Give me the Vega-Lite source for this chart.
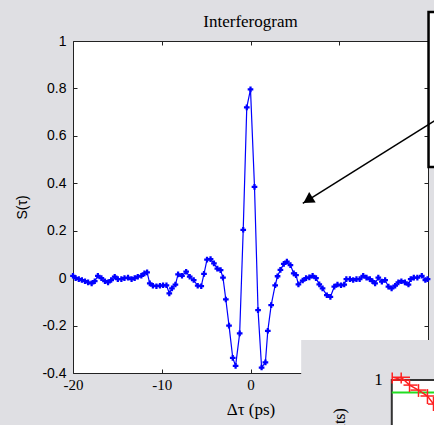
{
  "$schema": "https://vega.github.io/schema/vega-lite/v6.json",
  "width": 355,
  "height": 332,
  "autosize": {"type": "none"},
  "padding": {"left": 73, "top": 41, "right": 6, "bottom": 52},
  "background": "#dfdfe3",
  "view": {"fill": "white", "stroke": null},
  "title": {"text": "Interferogram", "font": "Liberation Serif", "fontSize": 17, "fontWeight": "normal", "color": "black", "anchor": "middle", "frame": "group", "baseline": "alphabetic", "offset": -33},
  "datasets": {
    "main": [
      {"x": -20.0, "y": 0.01}, {"x": -19.7, "y": 0.0}, {"x": -19.35, "y": -0.004}, {"x": -19.0, "y": -0.008},
      {"x": -18.65, "y": -0.013}, {"x": -18.3, "y": -0.018}, {"x": -17.9, "y": -0.022}, {"x": -17.55, "y": -0.013},
      {"x": -17.2, "y": 0.01}, {"x": -16.8, "y": 0.0}, {"x": -16.4, "y": -0.013}, {"x": -16.05, "y": -0.018},
      {"x": -15.7, "y": -0.008}, {"x": -15.3, "y": 0.006}, {"x": -14.95, "y": -0.004}, {"x": -14.55, "y": -0.004},
      {"x": -14.2, "y": 0.0}, {"x": -13.8, "y": 0.002}, {"x": -13.4, "y": -0.004}, {"x": -13.05, "y": 0.0},
      {"x": -12.7, "y": 0.006}, {"x": -12.3, "y": 0.01}, {"x": -11.95, "y": 0.02}, {"x": -11.65, "y": 0.024},
      {"x": -11.35, "y": -0.022}, {"x": -11.0, "y": -0.032}, {"x": -10.6, "y": -0.034}, {"x": -10.2, "y": -0.032},
      {"x": -9.85, "y": -0.03}, {"x": -9.47, "y": -0.03}, {"x": -9.15, "y": -0.064}, {"x": -8.85, "y": -0.043},
      {"x": -8.46, "y": -0.027}, {"x": -8.16, "y": 0.016}, {"x": -7.72, "y": 0.01}, {"x": -7.25, "y": 0.027},
      {"x": -6.85, "y": 0.006}, {"x": -6.4, "y": -0.008}, {"x": -5.95, "y": -0.032}, {"x": -5.55, "y": -0.034},
      {"x": -5.24, "y": 0.018}, {"x": -4.9, "y": 0.078}, {"x": -4.5, "y": 0.08}, {"x": -4.12, "y": 0.062},
      {"x": -3.74, "y": 0.04}, {"x": -3.37, "y": 0.034}, {"x": -3.1, "y": 0.002}, {"x": -2.78, "y": -0.09},
      {"x": -2.42, "y": -0.2}, {"x": -2.0, "y": -0.336}, {"x": -1.68, "y": -0.37}, {"x": -1.22, "y": -0.233},
      {"x": -0.82, "y": 0.204}, {"x": -0.42, "y": 0.72}, {"x": 0.0, "y": 0.796}, {"x": 0.45, "y": 0.385},
      {"x": 0.85, "y": -0.135}, {"x": 1.25, "y": -0.377}, {"x": 1.68, "y": -0.355}, {"x": 1.95, "y": -0.222},
      {"x": 2.33, "y": -0.114}, {"x": 2.78, "y": -0.03}, {"x": 3.05, "y": 0.008}, {"x": 3.37, "y": 0.035},
      {"x": 3.75, "y": 0.06}, {"x": 4.1, "y": 0.07}, {"x": 4.5, "y": 0.055}, {"x": 4.87, "y": 0.02},
      {"x": 5.13, "y": 0.013}, {"x": 5.4, "y": -0.026}, {"x": 5.88, "y": -0.01}, {"x": 6.26, "y": 0.0},
      {"x": 6.63, "y": 0.003}, {"x": 7.0, "y": 0.01}, {"x": 7.38, "y": 0.0}, {"x": 7.75, "y": -0.026},
      {"x": 8.12, "y": -0.043}, {"x": 8.6, "y": -0.072}, {"x": 9.0, "y": -0.079}, {"x": 9.44, "y": -0.036},
      {"x": 9.8, "y": -0.027}, {"x": 10.2, "y": -0.03}, {"x": 10.56, "y": -0.027}, {"x": 10.8, "y": -0.004},
      {"x": 11.2, "y": -0.004}, {"x": 11.57, "y": -0.008}, {"x": 11.94, "y": -0.004}, {"x": 12.3, "y": -0.004},
      {"x": 12.7, "y": 0.01}, {"x": 13.07, "y": 0.002}, {"x": 13.45, "y": -0.004}, {"x": 13.74, "y": -0.013},
      {"x": 14.04, "y": -0.022}, {"x": 14.4, "y": 0.002}, {"x": 14.8, "y": -0.015}, {"x": 15.17, "y": -0.008},
      {"x": 15.54, "y": -0.036}, {"x": 15.9, "y": -0.043}, {"x": 16.3, "y": -0.032}, {"x": 16.66, "y": -0.018},
      {"x": 17.0, "y": -0.013}, {"x": 17.4, "y": -0.018}, {"x": 17.8, "y": -0.027}, {"x": 18.05, "y": -0.004},
      {"x": 18.4, "y": 0.002}, {"x": 18.8, "y": 0.002}, {"x": 19.3, "y": 0.01}, {"x": 19.7, "y": -0.008},
      {"x": 19.95, "y": -0.004}
    ],
    "red": [
      {"x": 15.97, "y": -0.43, "xlo": 15.94, "xhi": 17.97, "ylo": -0.398, "yhi": -0.444},
      {"x": 16.98, "y": -0.418, "xlo": 15.94, "xhi": 17.97, "ylo": -0.398, "yhi": -0.444},
      {"x": 17.92, "y": -0.451, "xlo": 17.24, "xhi": 18.82, "ylo": -0.43, "yhi": -0.48},
      {"x": 18.93, "y": -0.472, "xlo": 18.03, "xhi": 19.83, "ylo": -0.447, "yhi": -0.501},
      {"x": 19.94, "y": -0.497, "xlo": 19.15, "xhi": 20.85, "ylo": -0.468, "yhi": -0.531},
      {"x": 20.62, "y": -0.531, "xlo": 20.0, "xhi": 21.4, "ylo": -0.5, "yhi": -0.56}
    ]
  },
  "layer": [
    {
      "data": {"name": "main"},
      "mark": {"type": "line", "opacity": 0},
      "encoding": {
        "x": {"field": "x", "type": "quantitative", "scale": {"domain": [-20, 20], "nice": false, "zero": false},
              "axis": {"orient": "top", "labels": false, "title": null, "values": [-20, -10, 0, 10, 20], "tickSize": -4, "zindex": 0}},
        "y": {"field": "y", "type": "quantitative", "scale": {"domain": [-0.4, 1], "nice": false, "zero": false},
              "axis": {"orient": "right", "labels": false, "title": null, "values": [-0.4, -0.2, 0, 0.2, 0.4, 0.6, 0.8, 1], "tickSize": -4, "zindex": 0}}
      }
    },
    {
      "data": {"name": "main"},
      "mark": {"type": "line", "color": "#0000ff", "strokeWidth": 1.2},
      "encoding": {
        "x": {"field": "x", "type": "quantitative", "scale": {"domain": [-20, 20], "nice": false, "zero": false},
              "axis": {"orient": "bottom", "title": "Δτ (ps)", "values": [-20, -10, 0, 10, 20], "tickSize": -4, "labelPadding": 8,
                       "labelFont": "Liberation Serif", "labelFontSize": 15, "titleFont": "Liberation Serif", "titleFontSize": 17, "titlePadding": 9,
                       "format": "d", "labelExpr": "replace(datum.label, '−', '-')", "labelFlush": false, "labelOverlap": false, "zindex": 0}},
        "y": {"field": "y", "type": "quantitative", "scale": {"domain": [-0.4, 1], "nice": false, "zero": false},
              "axis": {"orient": "left", "title": "S(τ)", "values": [-0.4, -0.2, 0, 0.2, 0.4, 0.6, 0.8, 1], "tickSize": -4, "labelPadding": 11,
                       "labelFont": "Liberation Sans", "labelFontSize": 14, "titleFont": "Liberation Sans", "titleFontSize": 14, "titlePadding": 12,
                       "format": "~g", "labelExpr": "replace(datum.label, '−', '-')", "labelFlush": false, "labelOverlap": false, "zindex": 0}}
      }
    },
    {
      "data": {"name": "main"},
      "mark": {"type": "point", "shape": "cross", "filled": true, "color": "#0000ff", "size": 32, "opacity": 1},
      "encoding": {
        "x": {"field": "x", "type": "quantitative", "scale": {"domain": [-20, 20], "nice": false, "zero": false}, "axis": null},
        "y": {"field": "y", "type": "quantitative", "scale": {"domain": [-0.4, 1], "nice": false, "zero": false}, "axis": null}
      }
    },
    {
      "data": {"values": [{"x": 5.71, "x2": 22, "y": -0.261, "y2": -0.8}]},
      "mark": {"type": "rect", "fill": "#dfdfe3"},
      "encoding": {
        "x": {"field": "x", "type": "quantitative", "axis": null}, "x2": {"field": "x2"},
        "y": {"field": "y", "type": "quantitative", "axis": null}, "y2": {"field": "y2"}
      }
    },
    {
      "data": {"values": [{"x": 15.92, "x2": 22, "y": -0.43, "y2": -0.8}]},
      "mark": {"type": "rect", "fill": "white", "stroke": "#333333", "strokeWidth": 2},
      "encoding": {
        "x": {"field": "x", "type": "quantitative", "axis": null}, "x2": {"field": "x2"},
        "y": {"field": "y", "type": "quantitative", "axis": null}, "y2": {"field": "y2"}
      }
    },
    {
      "data": {"values": [{"x": 15.92, "x2": 21.5, "y": -0.482}]},
      "mark": {"type": "rule", "color": "#22dd22", "strokeWidth": 2},
      "encoding": {
        "x": {"field": "x", "type": "quantitative", "axis": null}, "x2": {"field": "x2"},
        "y": {"field": "y", "type": "quantitative", "axis": null}
      }
    },
    {
      "data": {"name": "red"},
      "mark": {"type": "line", "color": "#ff2020", "strokeWidth": 1.5},
      "encoding": {
        "x": {"field": "x", "type": "quantitative", "axis": null},
        "y": {"field": "y", "type": "quantitative", "axis": null}
      }
    },
    {
      "data": {"name": "red"},
      "mark": {"type": "rule", "color": "#ff2020", "strokeWidth": 1.5},
      "encoding": {
        "x": {"field": "xlo", "type": "quantitative", "axis": null}, "x2": {"field": "xhi"},
        "y": {"field": "y", "type": "quantitative", "axis": null}
      }
    },
    {
      "data": {"name": "red"},
      "mark": {"type": "rule", "color": "#ff2020", "strokeWidth": 1.5},
      "encoding": {
        "x": {"field": "x", "type": "quantitative", "axis": null},
        "y": {"field": "ylo", "type": "quantitative", "axis": null}, "y2": {"field": "yhi"}
      }
    },
    {
      "data": {"values": [{"x": 14.42, "y": -0.43, "t": "1"}]},
      "mark": {"type": "text", "font": "Liberation Serif", "fontSize": 17, "align": "center", "baseline": "middle", "color": "black"},
      "encoding": {
        "x": {"field": "x", "type": "quantitative", "axis": null},
        "y": {"field": "y", "type": "quantitative", "axis": null},
        "text": {"field": "t"}
      }
    },
    {
      "data": {"values": [{"x": 10.1, "y": -0.548, "t": "Intensity (counts)"}]},
      "mark": {"type": "text", "font": "Liberation Serif", "fontSize": 16, "align": "right", "baseline": "middle", "angle": 270, "color": "black"},
      "encoding": {
        "x": {"field": "x", "type": "quantitative", "axis": null},
        "y": {"field": "y", "type": "quantitative", "axis": null},
        "text": {"field": "t"}
      }
    },
    {
      "data": {"values": [{"x": 20.06, "x2": 23, "y": 1.122, "y2": 0.469}]},
      "mark": {"type": "rect", "fill": "white", "stroke": "black", "strokeWidth": 2.5},
      "encoding": {
        "x": {"field": "x", "type": "quantitative", "axis": null}, "x2": {"field": "x2"},
        "y": {"field": "y", "type": "quantitative", "axis": null}, "y2": {"field": "y2"}
      }
    },
    {
      "data": {"values": [{"x": 5.89, "y": 0.315, "x2": 21.5, "y2": 0.681}]},
      "mark": {"type": "rule", "color": "black", "strokeWidth": 1.5},
      "encoding": {
        "x": {"field": "x", "type": "quantitative", "axis": null}, "x2": {"field": "x2"},
        "y": {"field": "y", "type": "quantitative", "axis": null}, "y2": {"field": "y2"}
      }
    },
    {
      "data": {"values": [{"x": 6.47, "y": 0.329}]},
      "mark": {"type": "point", "shape": "triangle-up", "filled": true, "color": "black", "opacity": 1, "size": 150, "angle": 238},
      "encoding": {
        "x": {"field": "x", "type": "quantitative", "axis": null},
        "y": {"field": "y", "type": "quantitative", "axis": null}
      }
    }
  ],
  "resolve": {"axis": {"x": "independent", "y": "independent"}},
  "config": {
    "axis": {"grid": false, "domainColor": "#222222", "tickColor": "#222222", "labelColor": "black", "titleColor": "black", "titleFontWeight": "normal", "domainWidth": 1, "tickWidth": 1}
  }
}
